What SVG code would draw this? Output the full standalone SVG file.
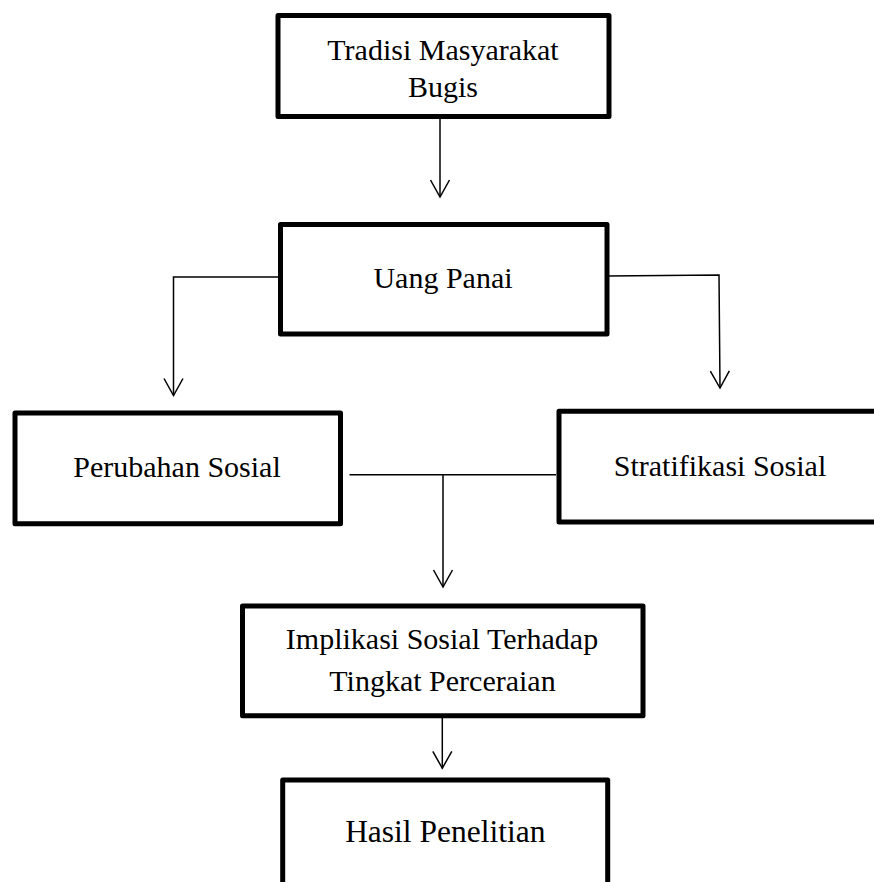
<svg xmlns="http://www.w3.org/2000/svg" width="874" height="882" viewBox="0 0 874 882">
<style>
.box{fill:#fff;stroke:#000;stroke-width:5;stroke-linejoin:round}
.lbl{font-family:"Liberation Serif","Times New Roman",serif;font-size:30px;fill:#000;text-anchor:middle}
.con{fill:none;stroke:#000;stroke-width:1.5}
</style>
<defs>
<marker id="arr" markerUnits="userSpaceOnUse" markerWidth="22" markerHeight="24" viewBox="-19 -12 21 24" refX="0" refY="0" orient="auto">
<path d="M-17,-9.5 L0,0 L-17,9.5" fill="none" stroke="#000" stroke-width="1.5"/>
</marker>
</defs>
<rect width="874" height="882" fill="#fff"/>
<g id="connectors">
<line class="con" x1="440" y1="119" x2="440" y2="197" marker-end="url(#arr)"/>
<polyline class="con" points="280,277 173.5,277 173.5,395.5" marker-end="url(#arr)"/>
<polyline class="con" points="607,276 719,275 720,388" marker-end="url(#arr)"/>
<line class="con" x1="349.5" y1="474.7" x2="556" y2="474.7"/>
<line class="con" x1="443" y1="474.7" x2="443" y2="587" marker-end="url(#arr)"/>
<line class="con" x1="442.3" y1="716" x2="442.3" y2="768.3" marker-end="url(#arr)"/>
</g>
<g id="tradisi">
<rect class="box" x="278" y="15.5" width="331" height="101"/>
<text class="lbl" x="443" y="60">Tradisi Masyarakat</text>
<text class="lbl" x="443" y="97">Bugis</text>
</g>
<g id="uang-panai">
<rect class="box" x="280.5" y="224.5" width="326.5" height="109.5"/>
<text class="lbl" x="443" y="288">Uang Panai</text>
</g>
<g id="perubahan">
<rect class="box" x="15" y="413" width="325.5" height="110.7"/>
<text class="lbl" x="177" y="476.5">Perubahan Sosial</text>
</g>
<g id="stratifikasi">
<rect class="box" x="559" y="411.3" width="330" height="110.7"/>
<text class="lbl" x="720" y="476">Stratifikasi Sosial</text>
</g>
<g id="implikasi">
<rect class="box" x="242.5" y="606" width="400.5" height="109.8"/>
<text class="lbl" x="442" y="649">Implikasi Sosial Terhadap</text>
<text class="lbl" x="442.5" y="690.5">Tingkat Perceraian</text>
</g>
<g id="hasil">
<rect class="box" x="282.7" y="780" width="325" height="120"/>
<text class="lbl" x="445.3" y="842" style="font-size:31.5px">Hasil Penelitian</text>
</g>
</svg>
